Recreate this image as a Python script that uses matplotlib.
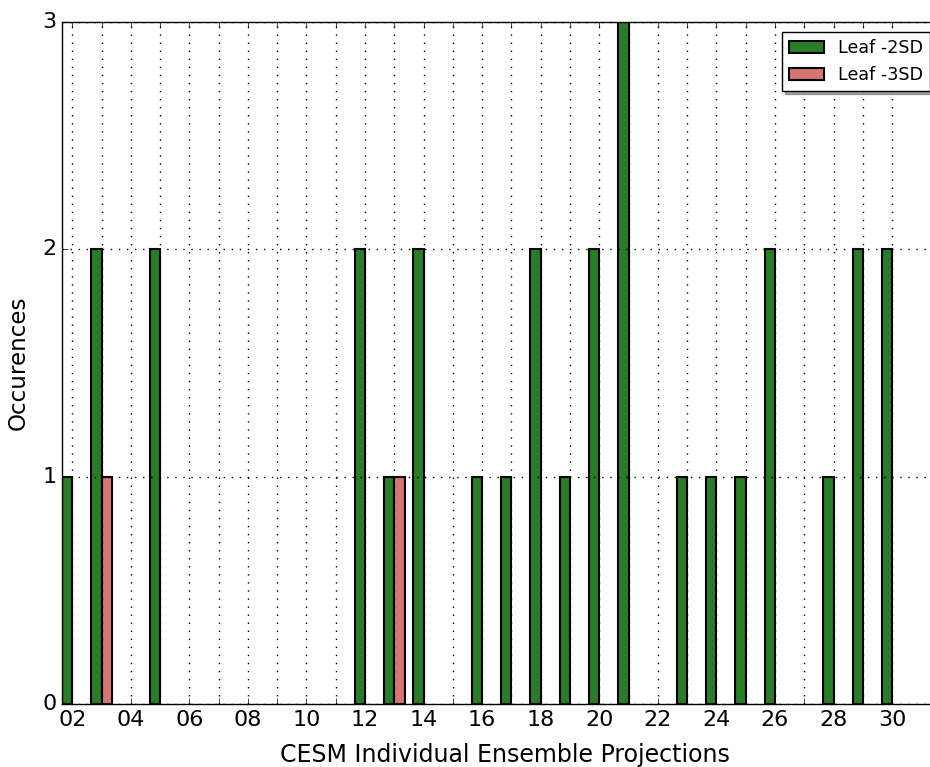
import matplotlib
matplotlib.use("Agg")
import matplotlib.pyplot as plt
import numpy as np

plt.style.use('classic')

members = list(range(2, 31))
leaf_2sd = [1, 2, 0, 2, 0, 0, 0, 0, 0, 0, 2, 1, 2, 0, 1, 1, 2, 1, 2, 3, 0, 1, 1, 1, 2, 0, 1, 2, 2]
leaf_3sd = [0, 1, 0, 0, 0, 0, 0, 0, 0, 0, 0, 1, 0, 0, 0, 0, 0, 0, 0, 0, 0, 0, 0, 0, 0, 0, 0, 0, 0]
tick_labels = ["%02d" % m if m % 2 == 0 else "" for m in members]

x = np.array(members, dtype=float)
v2 = np.array(leaf_2sd, dtype=float)
v3 = np.array(leaf_3sd, dtype=float)
w = 0.35

fig = plt.figure(figsize=(9.30, 7.67), dpi=100)
ax = fig.add_axes([62/930, 63/767, 1.0 - 62/930 + 0.02, (704-22)/767])

m2 = v2 > 0
m3 = v3 > 0
ax.bar(x[m2] - w, v2[m2], width=w, align='edge', color='#2a7b2a',
       edgecolor='black', linewidth=1.5, label='Leaf -2SD')
ax.bar(x[m3], v3[m3], width=w, align='edge', color='#d67575',
       edgecolor='black', linewidth=1.5, label='Leaf -3SD')

ax.set_xlim(1.65, 31.93)
ax.set_ylim(0, 3)
ax.set_xticks(members)
ax.set_xticklabels(tick_labels)
ax.set_yticks([0, 1, 2, 3])
ax.tick_params(labelsize=16)
ax.grid(True, color='black', linestyle=(0, (1.0, 4.8)), linewidth=1.0)
ax.set_axisbelow(False)
ax.set_xlabel('CESM Individual Ensemble Projections', fontsize=17, labelpad=10)
ax.set_ylabel('Occurences', fontsize=16.6, labelpad=9)
ax.legend(loc='upper left', bbox_to_anchor=(782/930, 1 - 32/767),
          bbox_transform=fig.transFigure, borderaxespad=0,
          fontsize=12.6, shadow=True, handlelength=2.0)

fig.savefig('out.png', dpi=100)
